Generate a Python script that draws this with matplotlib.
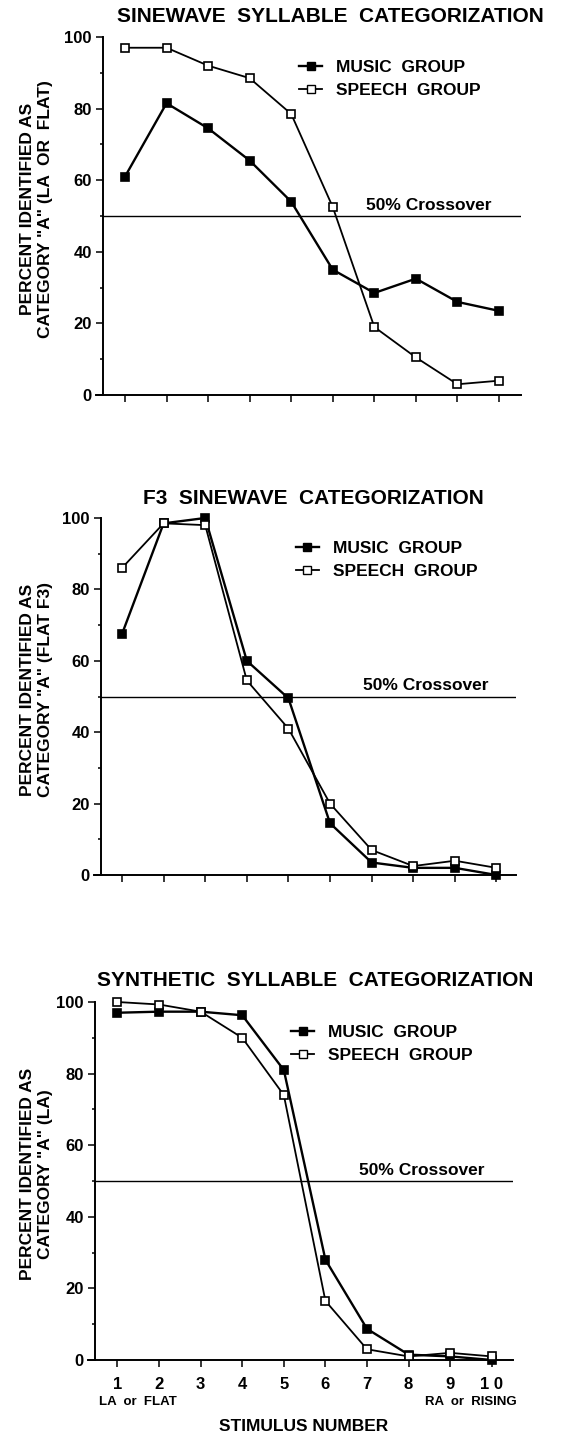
import numpy as np
import matplotlib
matplotlib.use("Agg")
import matplotlib.pyplot as plt
from matplotlib.lines import Line2D

plt.rcParams['font.family'] = ['Liberation Sans', 'DejaVu Sans']

# --- DATA ---
stimulus = [1, 2, 3, 4, 5, 6, 7, 8, 9, 10]
stim_labels = ['1', '2', '3', '4', '5', '6', '7', '8', '9', '1 0']

music_sinewave = [61, 81.5, 74.5, 65.5, 54, 35, 28.5, 32.5, 26, 23.5]
speech_sinewave = [97, 97, 92, 88.5, 78.5, 52.5, 19, 10.5, 3, 4]

music_f3 = [67.5, 98.5, 100, 60, 49.5, 14.5, 3.5, 2, 2, 0]
speech_f3 = [86, 98.5, 98, 54.5, 41, 20, 7, 2.5, 4, 2]

music_synth = [97, 97.3, 97.3, 96.3, 81, 28, 8.7, 1.5, 1, 0]
speech_synth = [100, 99.3, 97.3, 90, 74, 16.5, 3, 1, 2, 1]

titles = ['SINEWAVE  SYLLABLE  CATEGORIZATION',
          'F3  SINEWAVE  CATEGORIZATION',
          'SYNTHETIC  SYLLABLE  CATEGORIZATION']
ylabels = ['PERCENT IDENTIFIED AS\nCATEGORY "A" (LA  OR  FLAT)',
           'PERCENT IDENTIFIED AS\nCATEGORY "A" (FLAT F3)',
           'PERCENT IDENTIFIED AS\nCATEGORY "A" (LA)']
crossover = 50

# --- LAYOUT (pixel) ---
W, H = 565, 1435
# left, right, top, bottom, xlim, title x, title y
panels = [
    (103, 521, 37, 395, (0.471, 10.53), 330, 17),
    (101, 516, 518, 875, (0.495, 10.47), 313, 498),
    (95, 513, 1002, 1360, (0.46, 10.51), 315, 980),
]

fig = plt.figure(figsize=(W / 100, H / 100), dpi=100)

series = [(music_sinewave, speech_sinewave),
          (music_f3, speech_f3),
          (music_synth, speech_synth)]

for i, (l, r, t, b, xl, tx, ty) in enumerate(panels):
    ax = fig.add_axes([l / W, 1 - b / H, (r - l) / W, (b - t) / H])
    music, speech = series[i]

    ax.axhline(crossover, color='black', lw=1.0, zorder=1)
    ax.plot(stimulus, music, color='black', lw=1.7, marker='s', ms=5.5,
            mfc='black', mec='black', mew=1.2, zorder=3, clip_on=False)
    ax.plot(stimulus, speech, color='black', lw=1.3, marker='s', ms=5.5,
            mfc='white', mec='black', mew=1.2, zorder=4, clip_on=False)

    ax.set_xlim(*xl)
    ax.set_ylim(0, 100)
    ax.spines['top'].set_visible(False)
    ax.spines['right'].set_visible(False)
    for s in ['left', 'bottom']:
        ax.spines[s].set_linewidth(1.4)
    ax.spines['bottom'].set_bounds(xl[0] - 0.17, xl[1])

    ax.set_yticks([0, 20, 40, 60, 80, 100])
    ax.set_yticks([10, 30, 50, 70, 90], minor=True)
    ax.set_xticks(stimulus)
    ax.tick_params(axis='y', which='major', length=5, width=1.1, labelsize=12, pad=3)
    ax.tick_params(axis='y', which='minor', length=2.5, width=1.1)
    ax.tick_params(axis='x', which='major', length=5, width=1.1, labelsize=12, pad=7)
    for lab in ax.get_yticklabels():
        lab.set_fontweight('bold')

    if i == 2:
        ax.set_xticklabels(stim_labels, fontweight='bold')
        ax.text(1.5, -0.118, 'LA  or  FLAT', transform=ax.get_xaxis_transform(),
                ha='center', va='center', fontsize=9.5, fontweight='bold')
        ax.text(9.5, -0.118, 'RA  or  RISING', transform=ax.get_xaxis_transform(),
                ha='center', va='center', fontsize=9.5, fontweight='bold')
        ax.text(0.5, -0.187, 'STIMULUS NUMBER', transform=ax.transAxes,
                ha='center', va='center', fontsize=12.5, fontweight='bold')
    else:
        ax.set_xticklabels([])

    ax.text(9.82, 53, '50% Crossover', ha='right', va='center',
            fontsize=12.5, fontweight='bold')

    handles = [
        Line2D([], [], color='black', lw=1.7, marker='s', ms=5.5, mfc='black', mec='black'),
        Line2D([], [], color='black', lw=1.3, marker='s', ms=5.5, mfc='white', mec='black'),
    ]
    ax.legend(handles, ['MUSIC  GROUP', 'SPEECH  GROUP'], loc='upper left',
              bbox_to_anchor=(0.47, 0.935), frameon=False,
              prop={'size': 12.5, 'weight': 'bold'},
              handlelength=1.3, handletextpad=0.8, labelspacing=0.45,
              borderaxespad=0, borderpad=0)

    fig.text(tx / W, 1 - ty / H, titles[i], ha='center', va='center',
             fontsize=15, fontweight='bold')
    yc = (t + b) / 2 - 7
    fig.text(37 / W, 1 - yc / H, ylabels[i], rotation=90, ha='center', va='center',
             fontsize=12.5, fontweight='bold', linespacing=1.25,
             multialignment='center')

fig.savefig('out.png', dpi=100)
